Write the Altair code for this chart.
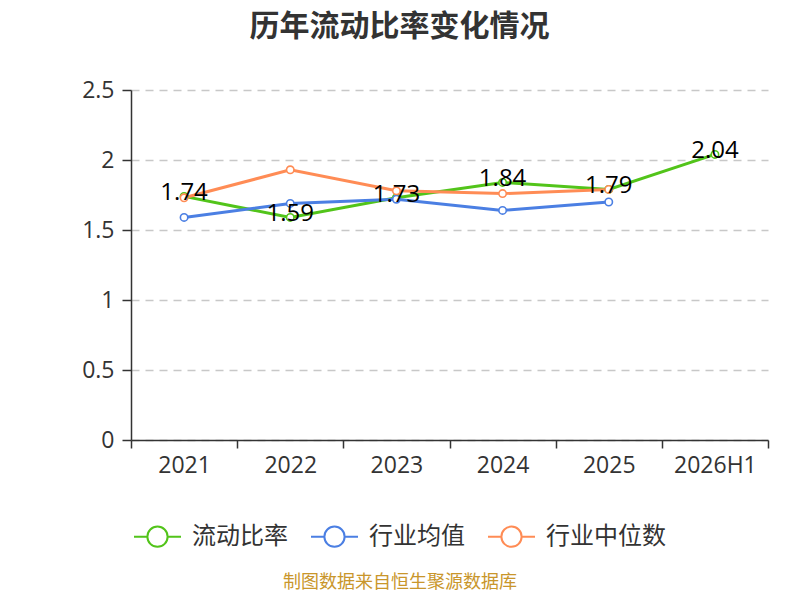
import altair as alt
import pandas as pd

years = ["2021", "2022", "2023", "2024", "2025", "2026H1"]
series_names = ["流动比率", "行业均值", "行业中位数"]
ratio = [1.74, 1.59, 1.73, 1.84, 1.79, 2.04]
ind_mean = [1.59, 1.69, 1.72, 1.64, 1.70]
ind_median = [1.73, 1.93, 1.78, 1.76, 1.79]
colors = ["#52c41a", "#4b7fe3", "#ff8c55"]
title_text = "历年流动比率变化情况"
source_text = "制图数据来自恒生聚源数据库"

rows = []
for name, vals in zip(series_names, [ratio, ind_mean, ind_median]):
    for y, v in zip(years, vals):
        rows.append({"year": y, "series": name, "value": v})
df = pd.DataFrame(rows)
df_ratio = df[df.series == "流动比率"]

FONT = "Noto Sans CJK SC"
NUMFONT = "Open Sans"

x_enc = alt.X("year:N", sort=years, bandPosition=0.5,
              scale=alt.Scale(type="band", domain=years, paddingInner=0, paddingOuter=0),
              axis=alt.Axis(title=None, tickBand="extent", labelAngle=0, grid=False,
                            labelFontSize=23, labelColor="#333", labelPadding=6,
                            domainColor="#333", tickColor="#333", tickSize=8,
                            domainWidth=1.5, tickWidth=1.5, labelFont=NUMFONT))
y_enc = alt.Y("value:Q",
              scale=alt.Scale(domain=[0, 2.5], nice=False, zero=True),
              axis=alt.Axis(title=None, values=[0, 0.5, 1, 1.5, 2, 2.5], format="~g",
                            labelFontSize=23, labelColor="#333", labelPadding=8,
                            domainColor="#333", tickColor="#333", tickSize=9,
                            domainWidth=1.5, tickWidth=1.5,
                            gridColor="#c8c8c8", gridDash=[8, 6], gridWidth=1.3,
                            labelFont=NUMFONT))

legend_path = ("M-1,0L-0.43,0M0.43,0L1,0"
               "M-0.43,0A0.43,0.43,0,1,1,0.43,0A0.43,0.43,0,1,1,-0.43,0Z")
legend = alt.Legend(title=None, orient="none", direction="horizontal",
                    legendX=2, legendY=422,
                    symbolType=legend_path, symbolSize=2209, symbolStrokeWidth=2,
                    symbolFillColor="white", labelFontSize=24, labelColor="#333",
                    labelFont=FONT, labelOffset=10, columnPadding=19, symbolOpacity=1)
color_enc = alt.Color("series:N", sort=series_names,
                      scale=alt.Scale(domain=series_names, range=colors),
                      legend=legend)

base = alt.Chart(df)
lines = base.mark_line(strokeWidth=3).encode(x=x_enc, y=y_enc, color=color_enc)
points = base.mark_point(filled=True, fill="white", size=55, strokeWidth=1.6, opacity=1).encode(
    x=x_enc, y=y_enc, stroke=alt.Stroke("series:N", sort=series_names,
                                        scale=alt.Scale(domain=series_names, range=colors),
                                        legend=None))
labels = alt.Chart(df_ratio).mark_text(fontSize=24, color="black", dy=-3, font=NUMFONT).encode(
    x=x_enc, y=y_enc, text=alt.Text("value:Q", format=".2f"))
source = alt.Chart(pd.DataFrame({"t": [source_text]})).mark_text(
    fontSize=18, color="#c9962b", font=FONT).encode(
    text="t:N", x=alt.value(269), y=alt.value(493))

chart = alt.layer(lines, points, labels, source).properties(
    width=637, height=350,
    autosize=alt.AutoSizeParams(type="none"),
    padding={"left": 123, "top": 82, "right": 24, "bottom": 152},
    title=alt.TitleParams(title_text, fontSize=30, fontWeight="bold", color="#333",
                          font=FONT, anchor="middle", dx=-50, offset=37),
).configure_view(stroke=None)

chart.save("out.html", embed_options={"renderer": "svg", "actions": False})
